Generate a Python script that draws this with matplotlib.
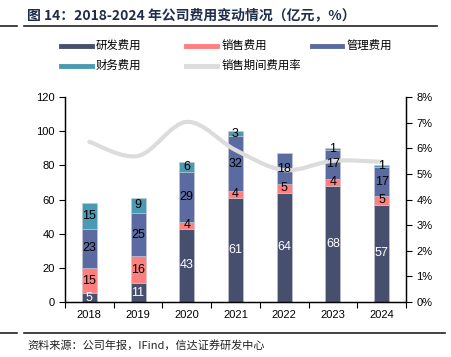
import numpy as np
import matplotlib
matplotlib.use("Agg")
import matplotlib.pyplot as plt
from matplotlib.path import Path
from matplotlib.patches import PathPatch
from matplotlib.lines import Line2D

plt.rcParams['font.family'] = ['Liberation Sans', 'Noto Sans CJK SC', 'DejaVu Sans']

# --- data ---
years = ['2018', '2019', '2020', '2021', '2022', '2023', '2024']
rd_cost = [5, 11, 43, 61, 64, 68, 57]
sales_cost = [15, 16, 4, 4, 5, 4, 5]
admin_cost = [23, 25, 29, 32, 18, 17, 17]
fin_cost = [15, 9, 6, 3, 0, 1, 1]
expense_rate = [6.25, 5.7, 7.03, 5.93, 5.15, 5.51, 5.47]  # %

series_names = ['研发费用', '销售费用', '管理费用', '财务费用']
series_vals = [rd_cost, sales_cost, admin_cost, fin_cost]
colors = ['#474f6f', '#ff7f7f', '#5b6aa0', '#4a9ab3']
line_color = '#dcdcdc'
label_colors = ['white', 'black', 'black', 'black']

fig = plt.figure(figsize=(4.52, 3.57), dpi=100)
ax = fig.add_axes([65 / 452, 55 / 357, 341 / 452, 205 / 357])
ax2 = ax.twinx()

x = np.arange(len(years))
bottom = np.zeros(len(years))
for name, vals, c in zip(series_names, series_vals, colors):
    ax.bar(x, vals, 0.31, bottom=bottom, color=c, edgecolor='#c8c8d0', linewidth=0.4, zorder=2)
    bottom += np.array(vals)

# smooth line (Catmull-Rom as cubic bezier)
pts = np.column_stack([x, expense_rate]).astype(float)
verts = [tuple(pts[0])]
codes = [Path.MOVETO]
for i in range(len(pts) - 1):
    p0 = pts[i - 1] if i > 0 else pts[i]
    p1 = pts[i]
    p2 = pts[i + 1]
    p3 = pts[i + 2] if i + 2 < len(pts) else pts[i + 1]
    c1 = p1 + (p2 - p0) / 6
    c2 = p2 - (p3 - p1) / 6
    verts += [tuple(c1), tuple(c2), tuple(p2)]
    codes += [Path.CURVE4] * 3
ax2.add_patch(PathPatch(Path(verts, codes), facecolor='none', edgecolor=line_color,
                        linewidth=3, capstyle='round', zorder=3))

# value labels, drawn on top of the line
bottom = np.zeros(len(years))
for vals, tc in zip(series_vals, label_colors):
    for i, v in enumerate(vals):
        if v > 0:
            ax2.text(x[i], bottom[i] + v / 2, f'{v}', transform=ax.transData,
                     ha='center', va='center', fontsize=9, color=tc, zorder=5)
    bottom += np.array(vals)

ax.set_xlim(-0.5, len(years) - 0.5)
ax.set_ylim(0, 120)
ax.set_yticks(range(0, 121, 20))
ax2.set_ylim(0, 8)
ax2.set_yticks(range(0, 9))
ax2.set_yticklabels([f'{v}%' for v in range(0, 9)])
ax.set_xticks(x)
ax.set_xticklabels(years)
ax.set_xticks(np.arange(-0.5, len(years)), minor=True)
ax.tick_params(axis='x', which='major', length=0, labelsize=8, pad=6)
ax.tick_params(axis='x', which='minor', length=4, direction='out', width=0.8)
ax.tick_params(axis='y', length=4, width=0.8, labelsize=8)
ax2.tick_params(axis='y', length=4, width=0.8, labelsize=8)
for a in (ax, ax2):
    a.spines['top'].set_visible(False)
    for s in ('left', 'right', 'bottom'):
        a.spines[s].set_linewidth(0.9)

# legend (manual layout)
leg_items = list(zip(series_names, colors)) + [('销售期间费用率', line_color)]
leg_pos = [(61, 45.5), (186.5, 45.5), (311.5, 45.5), (61, 65.5), (186.5, 65.5)]
for (name, c), (px, py) in zip(leg_items, leg_pos):
    fy = 1 - py / 357
    fig.add_artist(Line2D([px / 452, (px + 31) / 452], [fy, fy], color=c, linewidth=3.5,
                          transform=fig.transFigure))
    fig.text((px + 35) / 452, fy, name, fontsize=8.2, va='center', ha='left',
             family=['Noto Sans CJK SC', 'DejaVu Sans'])

# title and rules
fig.text(27 / 452, 1 - 15.5 / 357, '图 14：2018-2024 年公司费用变动情况（亿元，%）', fontsize=10,
         fontweight='bold', color='#1f2d4d', va='center', ha='left',
         family=['Noto Sans CJK SC', 'DejaVu Sans'])
for yy, x_end in ((26, 437), (333, 445)):
    fy = 1 - yy / 357
    fig.add_artist(Line2D([0, 17 / 452], [fy, fy], color='#222222', linewidth=1.2,
                          transform=fig.transFigure))
    fig.add_artist(Line2D([24 / 452, x_end / 452], [fy, fy], color='#222222', linewidth=1.2,
                          transform=fig.transFigure))

fig.text(27 / 452, 1 - 345 / 357, '资料来源：公司年报，IFind，信达证券研发中心', fontsize=8,
         style='italic', color='#222222', va='center', ha='left',
         family=['Noto Sans CJK SC', 'DejaVu Sans'])

fig.savefig('out.png', dpi=100)
